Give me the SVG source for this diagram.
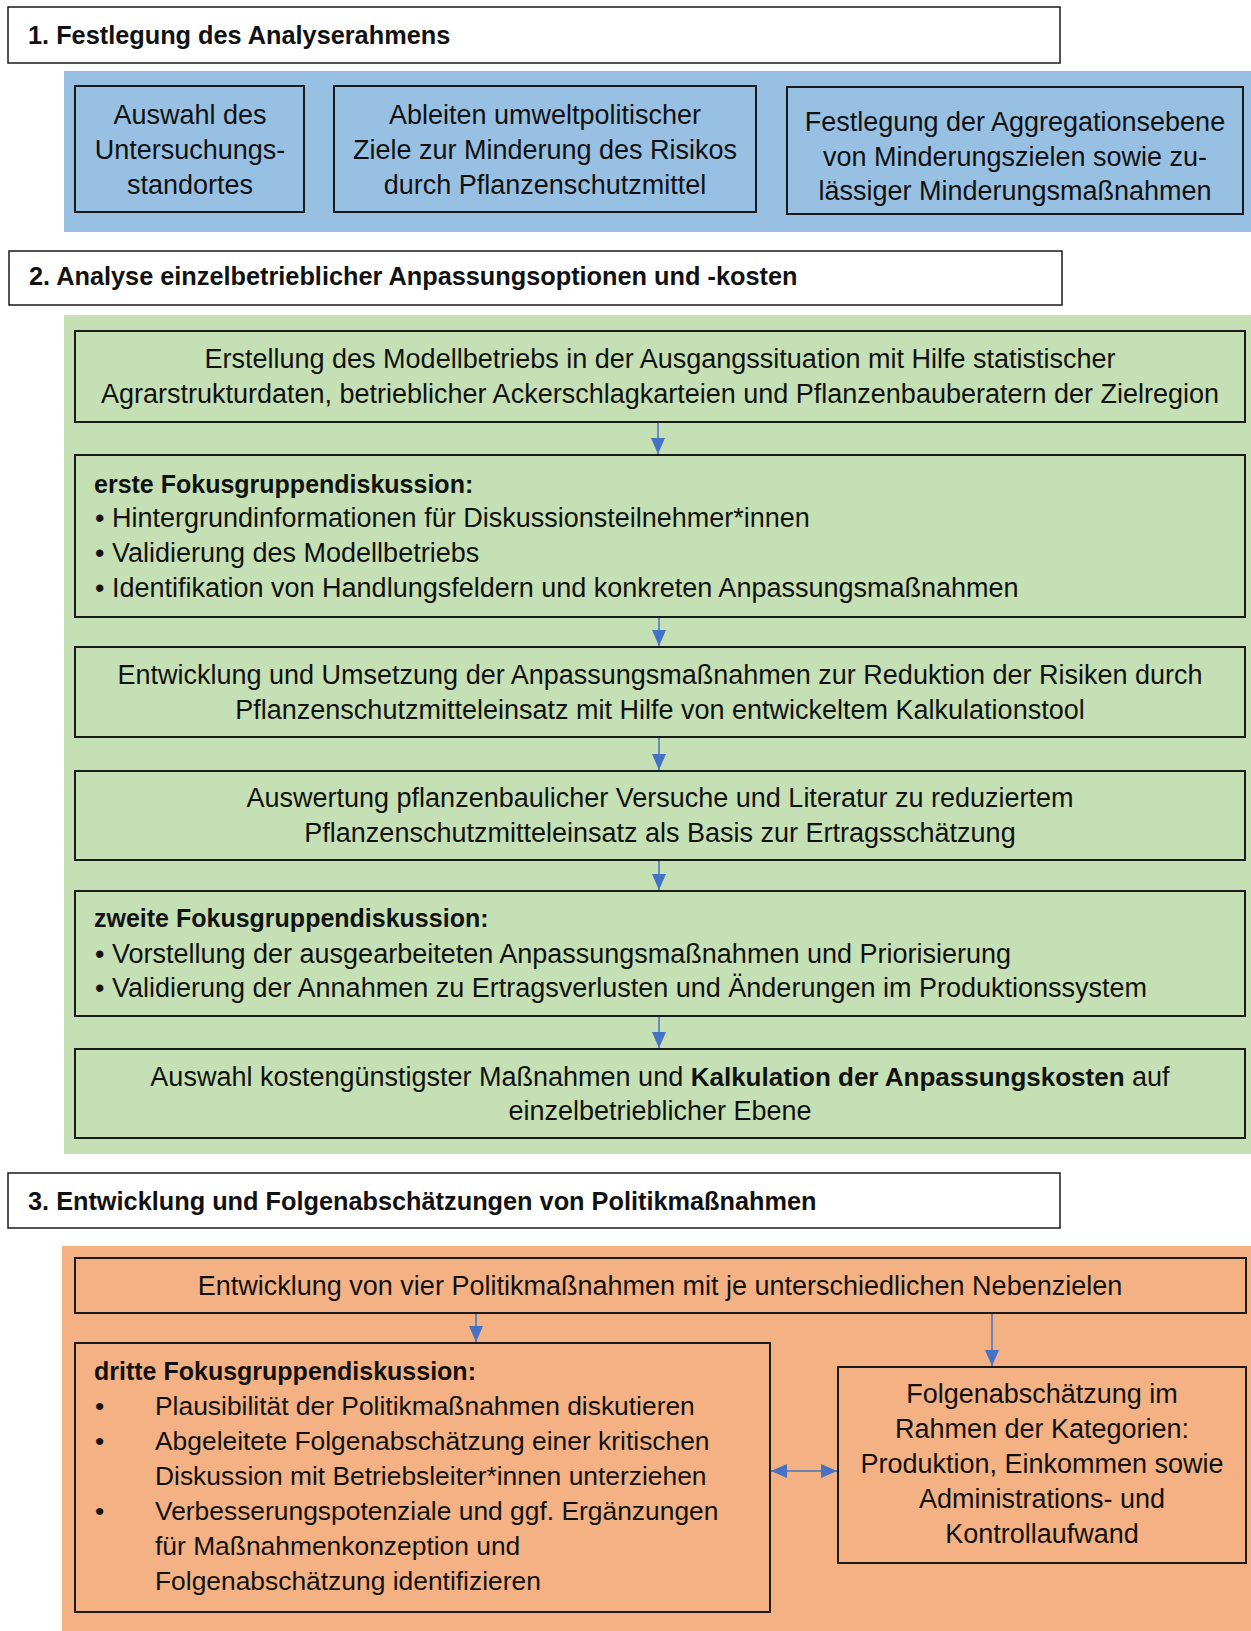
<svg xmlns="http://www.w3.org/2000/svg" width="1251" height="1631" viewBox="0 0 1251 1631">
<defs>
<style>
.hdr{fill:#fff;stroke:#1a1a1a;stroke-width:1.5}
.box{stroke:#1a1a1a;stroke-width:2}
.t{font-family:"Liberation Sans",Arial,sans-serif;font-size:27px;fill:#111}
.d{font-size:26.4px}
.c{text-anchor:middle}
.b{font-weight:bold;font-size:25px}
.bt{font-weight:bold;font-size:26px}
.h{font-family:"Liberation Sans",Arial,sans-serif;font-size:25.3px;font-weight:bold;fill:#111}
.con{stroke:#4472C4;stroke-width:1.5;fill:none}
</style>
<marker id="ah" viewBox="0 0 16 14" refX="16" refY="7" markerWidth="16" markerHeight="14" markerUnits="userSpaceOnUse" orient="auto-start-reverse">
<path d="M0,0 L16,7 L0,14 Z" fill="#4472C4"/>
</marker>
</defs>
<rect width="1251" height="1631" fill="#fff"/>

<!-- Section 1 -->
<g id="header1">
<rect class="hdr" x="8" y="7" width="1052" height="56"/>
<text class="h" x="28" y="44">1. Festlegung des Analyserahmens</text>
</g>
<rect id="panel1" x="64" y="71" width="1187" height="161" fill="#97C0E3"/>
<g id="b1a">
<rect class="box" x="75" y="86" width="229" height="126" fill="#97C0E3"/>
<text class="t c" x="190" y="124">Auswahl des</text>
<text class="t c" x="190" y="159">Untersuchungs-</text>
<text class="t c" x="190" y="194">standortes</text>
</g>
<g id="b1b">
<rect class="box" x="334" y="86" width="422" height="126" fill="#97C0E3"/>
<text class="t c" x="545" y="124">Ableiten umweltpolitischer</text>
<text class="t c" x="545" y="159">Ziele zur Minderung des Risikos</text>
<text class="t c" x="545" y="194">durch Pflanzenschutzmittel</text>
</g>
<g id="b1c">
<rect class="box" x="787" y="87" width="456" height="127" fill="#97C0E3"/>
<text class="t c" x="1015" y="131">Festlegung der Aggregationsebene</text>
<text class="t c" x="1015" y="166">von Minderungszielen sowie zu-</text>
<text class="t c" x="1015" y="200">lässiger Minderungsmaßnahmen</text>
</g>

<!-- Section 2 -->
<g id="header2">
<rect class="hdr" x="9" y="251" width="1053" height="54"/>
<text class="h" x="29" y="285">2. Analyse einzelbetrieblicher Anpassungsoptionen und -kosten</text>
</g>
<rect id="panel2" x="64" y="315" width="1187" height="839" fill="#C5E0B4"/>
<g id="g1">
<rect class="box" x="75" y="331" width="1170" height="91" fill="#C5E0B4"/>
<text class="t c" x="660" y="368">Erstellung des Modellbetriebs in der Ausgangssituation mit Hilfe statistischer</text>
<text class="t c" x="660" y="403">Agrarstrukturdaten, betrieblicher Ackerschlagkarteien und Pflanzenbauberatern der Zielregion</text>
</g>
<g id="g2">
<rect class="box" x="75" y="455" width="1170" height="162" fill="#C5E0B4"/>
<text class="t b" x="94" y="493">erste Fokusgruppendiskussion:</text>
<text class="t" x="95" y="527">• Hintergrundinformationen für Diskussionsteilnehmer*innen</text>
<text class="t" x="95" y="562">• Validierung des Modellbetriebs</text>
<text class="t" x="95" y="597">• Identifikation von Handlungsfeldern und konkreten Anpassungsmaßnahmen</text>
</g>
<g id="g3">
<rect class="box" x="75" y="647" width="1170" height="90" fill="#C5E0B4"/>
<text class="t c" x="660" y="684">Entwicklung und Umsetzung der Anpassungsmaßnahmen zur Reduktion der Risiken durch</text>
<text class="t c" x="660" y="719">Pflanzenschutzmitteleinsatz mit Hilfe von entwickeltem Kalkulationstool</text>
</g>
<g id="g4">
<rect class="box" x="75" y="771" width="1170" height="89" fill="#C5E0B4"/>
<text class="t c" x="660" y="807">Auswertung pflanzenbaulicher Versuche und Literatur zu reduziertem</text>
<text class="t c" x="660" y="842">Pflanzenschutzmitteleinsatz als Basis zur Ertragsschätzung</text>
</g>
<g id="g5">
<rect class="box" x="75" y="891" width="1170" height="125" fill="#C5E0B4"/>
<text class="t b" x="94" y="927">zweite Fokusgruppendiskussion:</text>
<text class="t" x="95" y="963">• Vorstellung der ausgearbeiteten Anpassungsmaßnahmen und Priorisierung</text>
<text class="t" x="95" y="997">• Validierung der Annahmen zu Ertragsverlusten und Änderungen im Produktionssystem</text>
</g>
<g id="g6">
<rect class="box" x="75" y="1049" width="1170" height="89" fill="#C5E0B4"/>
<text class="t c" x="660" y="1086">Auswahl kostengünstigster Maßnahmen und <tspan class="bt">Kalkulation der Anpassungskosten</tspan> auf</text>
<text class="t c" x="660" y="1120">einzelbetrieblicher Ebene</text>
</g>

<!-- Section 3 -->
<g id="header3">
<rect class="hdr" x="8" y="1173" width="1052" height="55"/>
<text class="h" x="28" y="1210">3. Entwicklung und Folgenabschätzungen von Politikmaßnahmen</text>
</g>
<rect id="panel3" x="62" y="1246" width="1189" height="385" fill="#F4B183"/>
<g id="o1">
<rect class="box" x="75" y="1258" width="1171" height="55" fill="#F4B183"/>
<text class="t c" x="660" y="1295">Entwicklung von vier Politikmaßnahmen mit je unterschiedlichen Nebenzielen</text>
</g>
<g id="o2">
<rect class="box" x="75" y="1343" width="695" height="269" fill="#F4B183"/>
<text class="t b" x="94" y="1380">dritte Fokusgruppendiskussion:</text>
<text class="t d" x="95" y="1415">•</text>
<text class="t d" x="155" y="1415">Plausibilität der Politikmaßnahmen diskutieren</text>
<text class="t d" x="95" y="1450">•</text>
<text class="t d" x="155" y="1450">Abgeleitete Folgenabschätzung einer kritischen</text>
<text class="t d" x="155" y="1485">Diskussion mit Betriebsleiter*innen unterziehen</text>
<text class="t d" x="95" y="1520">•</text>
<text class="t d" x="155" y="1520">Verbesserungspotenziale und ggf. Ergänzungen</text>
<text class="t d" x="155" y="1555">für Maßnahmenkonzeption und</text>
<text class="t d" x="155" y="1590">Folgenabschätzung identifizieren</text>
</g>
<g id="o3">
<rect class="box" x="838" y="1367" width="408" height="196" fill="#F4B183"/>
<text class="t c" x="1042" y="1403">Folgenabschätzung im</text>
<text class="t c" x="1042" y="1438">Rahmen der Kategorien:</text>
<text class="t c" x="1042" y="1473">Produktion, Einkommen sowie</text>
<text class="t c" x="1042" y="1508">Administrations- und</text>
<text class="t c" x="1042" y="1543">Kontrollaufwand</text>
</g>

<g id="connectors">
<line class="con" x1="658" y1="423" x2="658" y2="454" marker-end="url(#ah)"/>
<line class="con" x1="659" y1="618" x2="659" y2="646" marker-end="url(#ah)"/>
<line class="con" x1="659" y1="738" x2="659" y2="770" marker-end="url(#ah)"/>
<line class="con" x1="659" y1="861" x2="659" y2="890" marker-end="url(#ah)"/>
<line class="con" x1="659" y1="1017" x2="659" y2="1048" marker-end="url(#ah)"/>
<line class="con" x1="476" y1="1314" x2="476" y2="1342" marker-end="url(#ah)"/>
<line class="con" x1="992" y1="1314" x2="992" y2="1366" marker-end="url(#ah)"/>
<line class="con" x1="771" y1="1471" x2="837" y2="1471" marker-start="url(#ah)" marker-end="url(#ah)"/>
</g>
</svg>
